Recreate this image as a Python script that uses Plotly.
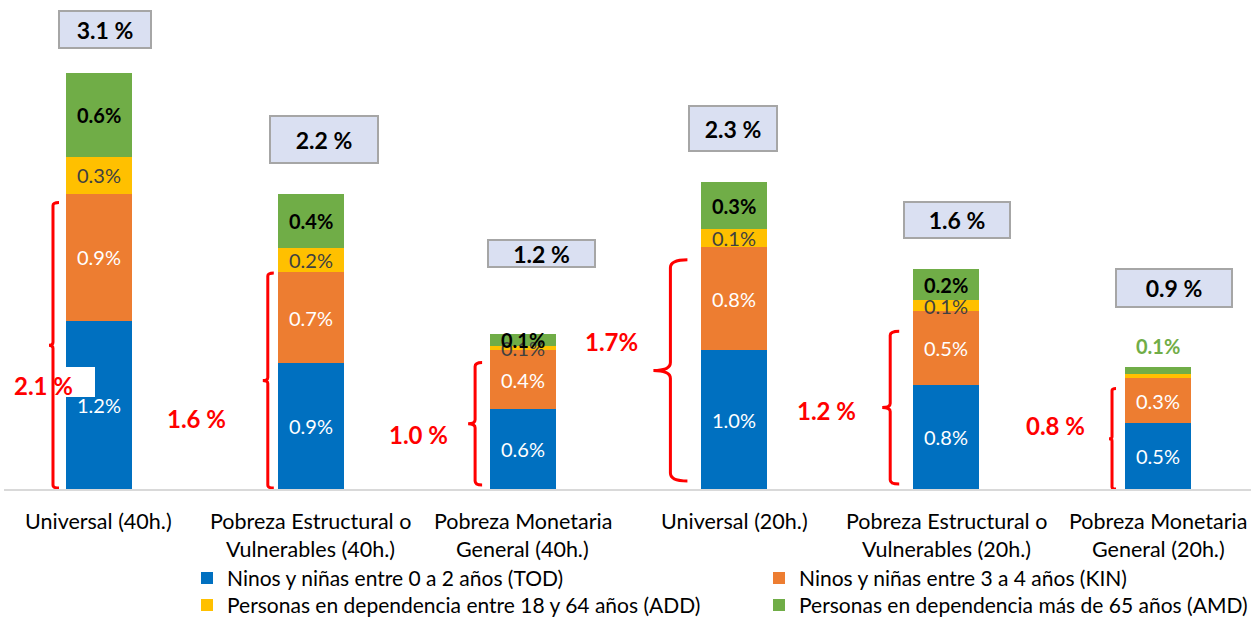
import plotly.graph_objects as go

# ---------------- data ----------------
CATEGORIES = [
    "Universal (40h.)",
    "Pobreza Estructural o\nVulnerables (40h.)",
    "Pobreza Monetaria\nGeneral (40h.)",
    "Universal (20h.)",
    "Pobreza Estructural o\nVulnerables (20h.)",
    "Pobreza Monetaria\nGeneral (20h.)",
]
SERIES_NAMES = [
    "Ninos y niñas entre 0 a 2 años (TOD)",
    "Ninos y niñas entre 3 a 4 años (KIN)",
    "Personas en dependencia entre 18 y 64 años (ADD)",
    "Personas en dependencia más de 65 años (AMD)",
]
TOD = [1.20, 0.90, 0.57, 0.99, 0.74, 0.47]
KIN = [0.91, 0.65, 0.42, 0.74, 0.53, 0.32]
ADD = [0.26, 0.17, 0.03, 0.13, 0.08, 0.03]
AMD = [0.60, 0.39, 0.09, 0.33, 0.22, 0.05]

TOD_LABELS = ["1.2%", "0.9%", "0.6%", "1.0%", "0.8%", "0.5%"]
KIN_LABELS = ["0.9%", "0.7%", "0.4%", "0.8%", "0.5%", "0.3%"]
ADD_LABELS = ["0.3%", "0.2%", "0.1%", "0.1%", "0.1%", None]
AMD_LABELS = ["0.6%", "0.4%", "0.1%", "0.3%", "0.2%", "0.1%"]

TOTAL_LABELS = ["3.1 %", "2.2 %", "1.2 %", "2.3 %", "1.6 %", "0.9 %"]
SUBTOTAL_LABELS = ["2.1 %", "1.6 %", "1.0 %", "1.7%", "1.2 %", "0.8 %"]

# ---------------- layout geometry ----------------
W, H = 1251, 617
ML, MR, MT, MB = 4, 0, 10, 128
PLOT_W = W - ML - MR
PLOT_H = H - MT - MB
X_RANGE = [-0.4485, 5.4390]
Y_RANGE = [0, 3.4214]
PXX = PLOT_W / (X_RANGE[1] - X_RANGE[0])
PXY = PLOT_H / (Y_RANGE[1] - Y_RANGE[0])


def dx(px):
    return px / PXX


def dy(px):
    return px / PXY


def xp(px):
    return X_RANGE[0] + (px - ML) / PXX


def yp(py):
    return Y_RANGE[0] + (MT + PLOT_H - py) / PXY


FONT = "Lato, 'Open Sans', sans-serif"
COLORS = ["#0070C0", "#ED7D31", "#FFC000", "#70AD47"]
BAR_WIDTH = 0.312
LEGEND_FONT = 21
LEGEND_ROWS = [578, 605]          # row centres (px)
LEGEND_LEFT = 187                 # legend left edge (px)
LEGEND_COL = 572                  # column pitch (px)

# total boxes: centre x/y (px), width, height (px)
BOX_POS = [(105, 29, 94, 39), (324, 139.5, 110, 49), (541, 253, 109, 29),
           (733, 128, 90, 47), (957, 220, 108, 38), (1174, 288, 118, 40)]
# red subtotal labels: centre (px)
RED_POS = [(43, 385), (196, 418), (418, 434), (611, 341), (826, 410), (1055, 425)]
# braces: x offset from bar centre (px), top inset (px), bottom (px), hook, notch, radius
BRACE_GEOM = [(-46, 9, 488, 6, 4, 3), (-43, 1, 488, 6, 5, 3), (-47.5, 12, 485, 7, 7, 4),
              (-64, 13, 481, 17, 17, 8), (-56, 20, 484, 9, 8, 4), (-46, 10, 489, 4, 3, 2)]

x_idx = list(range(len(CATEGORIES)))

fig = go.Figure()
for k, (name, vals, col) in enumerate(zip(SERIES_NAMES, [TOD, KIN, ADD, AMD], COLORS)):
    fig.add_trace(go.Bar(
        x=x_idx, y=vals, name=name, width=BAR_WIDTH,
        marker=dict(color=col, line=dict(width=0)),
        hoverinfo="skip",
        legend="legend" if k < 2 else "legend2",
    ))

annotations = []
shapes = []

# segment labels
series_vals = [TOD, KIN, ADD, AMD]
series_lbls = [TOD_LABELS, KIN_LABELS, ADD_LABELS, AMD_LABELS]
seg_styles = [
    dict(color="white", bold=False),
    dict(color="white", bold=False),
    dict(color="#404040", bold=False),
    dict(color="black", bold=True),
]
for i in x_idx:
    base = 0.0
    for s, (vals, lbls, st) in enumerate(zip(series_vals, series_lbls, seg_styles)):
        v = vals[i]
        lbl = lbls[i]
        mid = base + v / 2
        base += v
        if lbl is None:
            continue
        color = st["color"]
        bold = st["bold"]
        yshift = 0
        if s == 3 and i == len(x_idx) - 1:
            # small last segment: label placed above the bar in series colour
            color = COLORS[3]
            yshift = 21
            mid = base
            bold = True
        annotations.append(dict(
            x=i, y=mid, xref="x", yref="y", showarrow=False, yshift=yshift,
            text=f"<b>{lbl}</b>" if bold else lbl,
            font=dict(family=FONT, size=20, color=color),
            xanchor="center", yanchor="middle",
        ))

# totals in boxes
for i, (lbl, (cx, cy, bw, bh)) in enumerate(zip(TOTAL_LABELS, BOX_POS)):
    annotations.append(dict(
        x=xp(cx), y=yp(cy), xref="x", yref="y", showarrow=False,
        text=f"<b>{lbl}</b>", font=dict(family=FONT, size=23, color="black"),
        bgcolor="#DAE0F2", bordercolor="#A6A6A6", borderwidth=2, borderpad=0,
        width=bw - 4, height=bh - 4, xanchor="center", yanchor="middle",
        align="center", valign="middle",
    ))

# white patch behind first subtotal label
shapes.append(dict(
    type="rect", xref="x", yref="y", layer="above",
    x0=xp(0), x1=xp(95), y0=yp(397), y1=yp(367),
    fillcolor="white", line=dict(width=0),
))

# braces (span from 0 to TOD+KIN)
for i, (off, inset, bottom, hook, notch, r) in enumerate(BRACE_GEOM):
    top_val = TOD[i] + KIN[i]
    xv = i + dx(off)
    top = top_val - dy(inset)
    bot = yp(bottom)
    mid = (top + bot) / 2
    h = dx(hook)
    n = dx(notch)
    ry = dy(r)
    path = (
        f"M{xv + h},{top} Q{xv},{top} {xv},{top - ry} "
        f"L{xv},{mid + ry} Q{xv},{mid} {xv - n},{mid} "
        f"Q{xv},{mid} {xv},{mid - ry} "
        f"L{xv},{bot + ry} Q{xv},{bot} {xv + h},{bot}"
    )
    shapes.append(dict(
        type="path", xref="x", yref="y", layer="above", path=path,
        line=dict(color="#FF0000", width=3),
    ))

# red subtotal labels
for lbl, (cx, cy) in zip(SUBTOTAL_LABELS, RED_POS):
    annotations.append(dict(
        x=xp(cx), y=yp(cy), xref="x", yref="y", showarrow=False,
        text=f"<b>{lbl}</b>", font=dict(family=FONT, size=24, color="#FF0000"),
        xanchor="center", yanchor="middle",
    ))

# category labels (two lines, Excel-like spacing)
for i, cat in enumerate(CATEGORIES):
    for k, line in enumerate(cat.split("\n")):
        annotations.append(dict(
            x=i, y=0, xref="x", yref="paper", showarrow=False,
            yshift=-(32 + 28 * k), text=line,
            font=dict(family=FONT, size=21.5, color="black"),
            xanchor="center", yanchor="middle",
        ))


def legend_cfg(row_centre):
    item_h = LEGEND_FONT * 1.3 + 3
    top_px = row_centre - 5 - item_h / 2
    return dict(
        orientation="h", x=(LEGEND_LEFT - ML) / PLOT_W, xanchor="left",
        y=-(top_px - (MT + PLOT_H)) / PLOT_H, yanchor="top", traceorder="normal",
        entrywidth=LEGEND_COL - 45, entrywidthmode="pixels",
        font=dict(family=FONT, size=LEGEND_FONT, color="black"),
        bgcolor="rgba(0,0,0,0)", itemclick=False, itemdoubleclick=False,
    )


fig.update_layout(
    width=W, height=H,
    margin=dict(l=ML, r=MR, t=MT, b=MB, autoexpand=False),
    barmode="stack",
    plot_bgcolor="white", paper_bgcolor="white",
    font=dict(family=FONT, size=20, color="black"),
    xaxis=dict(range=X_RANGE, showticklabels=False, ticks="", showgrid=False,
               zeroline=False, showline=True, linecolor="#D9D9D9", linewidth=2,
               fixedrange=True),
    yaxis=dict(range=Y_RANGE, visible=False, showgrid=False, zeroline=False,
               fixedrange=True),
    showlegend=True,
    legend=legend_cfg(LEGEND_ROWS[0]),
    legend2=legend_cfg(LEGEND_ROWS[1]),
    annotations=annotations,
    shapes=shapes,
    bargap=0,
)

fig.write_html(
    "out.html",
    config={"displayModeBar": False},
    post_script="document.body.style.margin='0px';document.body.style.overflow='hidden';",
)
